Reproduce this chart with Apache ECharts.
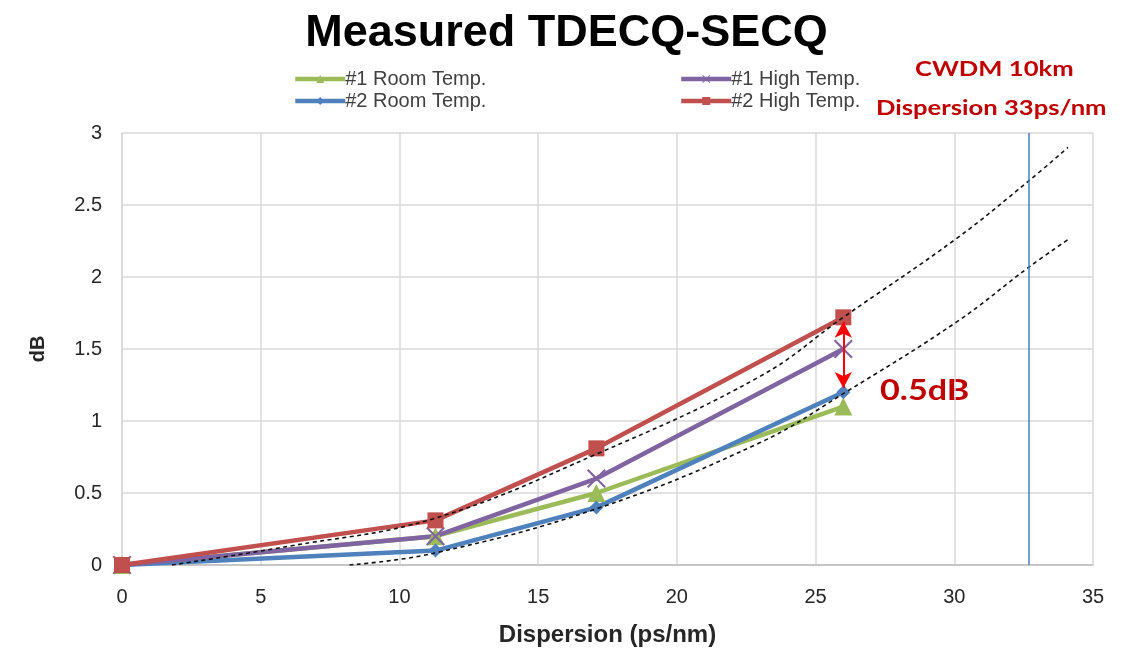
<!DOCTYPE html>
<html>
<head>
<meta charset="utf-8">
<script src="https://cdn.jsdelivr.net/npm/echarts@6/dist/echarts.min.js"></script>
<style>
  html, body { margin: 0; padding: 0; background: #fff; }
  #chart { width: 1133px; height: 652px; }
</style>
</head>
<body>
<div id="chart"></div>
<script>
// dispersion (ps/nm) of the measured points
const dispersion = [0, 11.3, 17.1, 26];
// TDECQ - SECQ (dB)
const room1 = [0, 0.2, 0.5, 1.1];
const high1 = [0, 0.2, 0.6, 1.5];
const room2 = [0, 0.1, 0.4, 1.2];
const high2 = [0, 0.31, 0.81, 1.72];
// dashed trend curves
const trendUpperX = [1.8, 6, 11.2, 17.1, 23, 26, 30.1, 32.7, 34.1];
const trendUpperY = [0, 0.13, 0.32, 0.77, 1.31, 1.72, 2.27, 2.67, 2.9];
const trendLowerX = [8.2, 11.2, 17.1, 23, 26, 30.1, 32.7, 34.1];
const trendLowerY = [0, 0.08, 0.39, 0.85, 1.19, 1.69, 2.07, 2.26];
const cwdmLimit = 32.7;
const xTicks = [0, 35, 5];
const yTicks = [0, 3, 0.5];

const zip = (xs, ys) => xs.map((x, i) => [x, ys[i]]);
const xMark = 'path://M0,0.8 L0.8,0 L10,9.2 L9.2,10 Z M9.2,0 L10,0.8 L0.8,10 L0,9.2 Z';

const chart = echarts.init(document.getElementById('chart'));
const font = 'Liberation Sans, Arial, sans-serif';
const noteFont = 'Lato, Open Sans, sans-serif';

function dataSeries(name, values, color, symbol, size) {
  return {
    name: name,
    type: 'line',
    data: zip(dispersion, values),
    symbol: symbol,
    symbolSize: size,
    showSymbol: true,
    lineStyle: { color: color, width: 4.5 },
    itemStyle: { color: color },
    z: 3
  };
}

function trend(xs, ys) {
  return {
    type: 'line',
    data: zip(xs, ys),
    smooth: 0.4,
    symbol: 'none',
    silent: true,
    lineStyle: { color: '#111', width: 1.6, type: [4, 3.5] },
    z: 4
  };
}

const s1 = dataSeries('#1 Room Temp.', room1, '#9BBB59', 'triangle', 18);
const s2 = dataSeries('#1 High Temp.', high1, '#8064A2', xMark, 19);
const s3 = dataSeries('#2 Room Temp.', room2, '#4F81BD', 'diamond', 14);
const s4 = dataSeries('#2 High Temp.', high2, '#C0504D', 'rect', 16);

s4.markLine = {
  silent: true,
  symbol: ['arrow', 'arrow'],
  symbolSize: [13, 16],
  label: { show: false },
  lineStyle: { color: '#FF0000', width: 2, type: 'solid' },
  data: [[{ coord: [26, 1.69] }, { coord: [26, 1.23] }]]
};
s3.markLine = {
  silent: true,
  symbol: 'none',
  label: { show: false },
  lineStyle: { color: '#4A7EBB', width: 1.5, type: 'solid' },
  data: [{ xAxis: cwdmLimit }]
};

const legendBase = {
  orient: 'vertical',
  top: 64,
  itemWidth: 50, itemHeight: 10, itemGap: 2,
  lineStyle: { width: 4.5 },
  textStyle: { fontFamily: font, fontSize: 20, color: '#404040', padding: [0, 0, 0, -5] }
};

function note(text, left, top, size) {
  return {
    type: 'text', x: left, y: top, scaleX: 1.22,
    style: { text: text, fontFamily: noteFont, fontSize: size, fontWeight: 'bold', fill: '#C00000' }
  };
}

chart.setOption({
  animation: false,
  title: {
    text: 'Measured TDECQ-SECQ',
    left: 'center',
    top: 6,
    textStyle: { fontFamily: font, fontSize: 45, fontWeight: 'bold', color: '#000' }
  },
  legend: [
    Object.assign({ data: ['#1 Room Temp.', '#2 Room Temp.'], left: 288 }, legendBase),
    Object.assign({ data: ['#1 High Temp.', '#2 High Temp.'], left: 674 }, legendBase)
  ],
  grid: { left: 122, right: 40, top: 133, bottom: 86 },
  xAxis: {
    type: 'value',
    min: xTicks[0], max: xTicks[1], interval: xTicks[2],
    name: 'Dispersion (ps/nm)',
    nameLocation: 'middle',
    nameGap: 58,
    nameTextStyle: { fontFamily: font, fontSize: 24, fontWeight: 'bold', color: '#262626' },
    axisLine: { lineStyle: { color: '#BFBFBF', width: 1.5 } },
    axisTick: { show: false },
    axisLabel: { fontFamily: font, fontSize: 20, color: '#262626', margin: 22 },
    splitLine: { show: true, lineStyle: { color: '#D9D9D9', width: 1.5 } }
  },
  yAxis: {
    type: 'value',
    min: yTicks[0], max: yTicks[1], interval: yTicks[2],
    name: 'dB',
    nameLocation: 'middle',
    nameGap: 74,
    nameTextStyle: { fontFamily: font, fontSize: 20, fontWeight: 'bold', color: '#262626' },
    axisLine: { show: true, lineStyle: { color: '#D9D9D9', width: 1.5 } },
    axisTick: { show: false },
    axisLabel: { fontFamily: font, fontSize: 20, color: '#262626', margin: 20 },
    splitLine: { show: true, lineStyle: { color: '#D9D9D9', width: 1.5 } }
  },
  series: [s1, s3, s2, s4, trend(trendUpperX, trendUpperY), trend(trendLowerX, trendLowerY)],
  graphic: [
    note('CWDM 10km', 915, 59, 21),
    note('Dispersion 33ps/nm', 876, 98, 21),
    note('0.5dB', 880, 377, 28)
  ]
});
</script>
</body>
</html>
